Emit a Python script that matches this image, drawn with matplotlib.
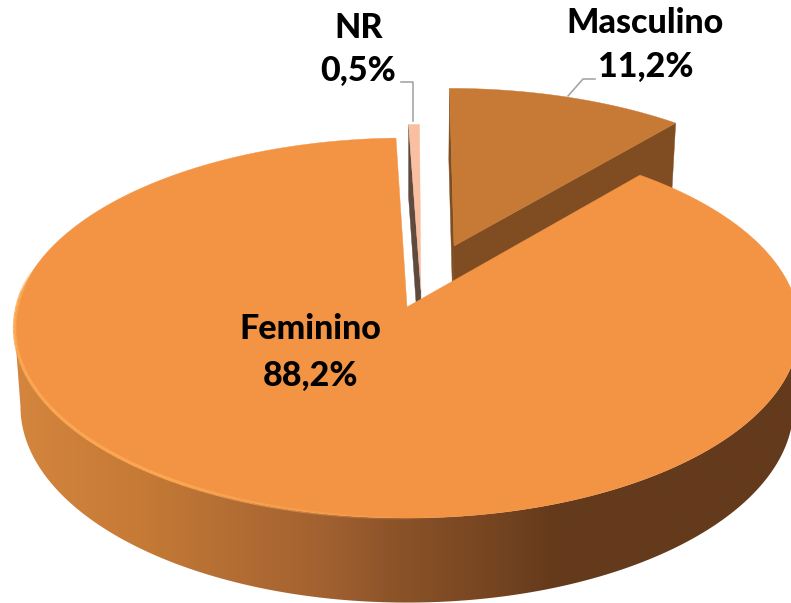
import numpy as np
import matplotlib
matplotlib.use("Agg")
import matplotlib.pyplot as plt
from matplotlib.collections import LineCollection
from matplotlib.colors import LinearSegmentedColormap
from matplotlib.patches import Polygon

categories = ["Masculino", "Feminino", "NR"]
values = [11.2, 88.2, 0.5]
value_labels = ["11,2%", "88,2%", "0,5%"]

top_colors = ["#C77A36", "#F39344", "#F8C0A0"]
cut_colors = ["#7F4D21", "#7F4D21", "#5E4A3E"]
offsets = [(0.125, 0.337), (0.0, 0.0), (0.036, 0.09)]   # slice explosion in disc units

# projection of the tilted disc to pixels
CX, CY, RX, RY, K, DEPTH, SHRINK = 407, 307, 390, 187.7, 0.1106, 78, 0.985


def project(u, v, low=False):
    w = 1 + K * np.asarray(v)
    s = SHRINK if low else 1.0
    d = DEPTH if low else 0.0
    return CX + s * RX * np.asarray(u) / w, CY + (d - s * RY * np.asarray(v)) / w


def arc(t0, t1, off, n=300):
    t = np.radians(np.linspace(t0, t1, n))
    return np.sin(t) + off[0], np.cos(t) + off[1]


fig = plt.figure(figsize=(7.91, 6.03), dpi=100)
ax = fig.add_axes([0, 0, 1, 1])
ax.axis("off")

edges = np.cumsum([0] + values) / np.sum(values) * 360
spans = list(zip(edges[:-1], edges[1:]))

rim_x = np.array([0, 150, 250, 330, 400, 500, 555, 791])
rim_hex = ["#D6873F", "#C47935", "#B06B33", "#A16030", "#8A5228", "#744420", "#643A1C", "#643A1C"]
rim_cmap = LinearSegmentedColormap.from_list(
    "rim", list(zip((rim_x - rim_x[0]) / (rim_x[-1] - rim_x[0]), rim_hex)), N=512)


def cut_face(angle, off, colour, z):
    t = np.radians(angle)
    u = np.array([off[0], np.sin(t) + off[0]])
    v = np.array([off[1], np.cos(t) + off[1]])
    xa, ya = project(u, v)
    xb, yb = project(u, v, low=True)
    ax.fill(np.r_[xa, xb[::-1]], np.r_[ya, yb[::-1]], color=colour, lw=0.3, zorder=z)


def top_face(span, off, colour, z):
    u, v = arc(span[0], span[1], off)
    x, y = project(np.r_[off[0], u], np.r_[off[1], v])
    ax.fill(x, y, color=colour, lw=0.3, zorder=z)


# Masculino (back)
cut_face(spans[0][0], offsets[0], cut_colors[0], 1)
cut_face(spans[0][1], offsets[0], cut_colors[0], 1)
top_face(spans[0], offsets[0], top_colors[0], 2)

# NR
cut_face(spans[2][0], offsets[2], cut_colors[2], 3)
top_face(spans[2], offsets[2], top_colors[2], 4)

# Feminino outer wall: horizontal gradient clipped to the visible wall outline
limb = np.degrees(np.arccos(-K))          # where the rim turns away from the viewer
u, v = arc(limb, 360 - limb, offsets[1], n=700)
xa, ya = project(u, v)
xb, yb = project(u, v, low=True)
wall = Polygon(np.c_[np.r_[xa, xb[::-1]], np.r_[ya, yb[::-1]]], closed=True,
               transform=ax.transData, fc="none", ec="none")
ax.add_patch(wall)
img = ax.imshow(np.linspace(0, 1, 512)[None, :], cmap=rim_cmap, aspect="auto",
                extent=(rim_x[0], rim_x[-1], 603, 0), zorder=5, interpolation="bilinear")
img.set_clip_path(wall)
ax.set_xlim(0, 791)
ax.set_ylim(603, 0)

# Feminino top
top_face(spans[1], offsets[1], top_colors[1], 6)

# bevel highlight along the near edge
u, v = arc(282, 176, offsets[1], n=300)
xh, yh = project(u, v)
segs = [[(xh[i], yh[i]), (xh[i + 1], yh[i + 1])] for i in range(len(xh) - 1)]
ramp = np.linspace(0, 1, len(segs))
alpha = np.clip(ramp / 0.08, 0, 1) * np.clip((1 - ramp) / 0.35, 0, 1)
ax.add_collection(LineCollection(segs, colors=[(0.99, 0.66, 0.33, a) for a in alpha],
                                 linewidths=2.4, zorder=7))

# leader lines
ax.plot([401, 413, 413], [82, 82, 121], color="#A6A6A6", lw=1.2, zorder=8)
ax.plot([595, 583, 568], [79, 79, 96], color="#A6A6A6", lw=1.2, zorder=8)

font = dict(family="Lato", fontweight=900, fontsize=24.5, color="black",
            ha="center", va="center", zorder=9)
label_pos = {"Masculino": ((645, 23), (646, 67)),
             "Feminino": ((310, 329), (310, 376)),
             "NR": ((359, 28), (358, 71))}
for name, val in zip(categories, value_labels):
    a, b = label_pos[name]
    ax.text(*a, name, **font)
    ax.text(*b, val, **font)

fig.savefig("out.png", dpi=100)
